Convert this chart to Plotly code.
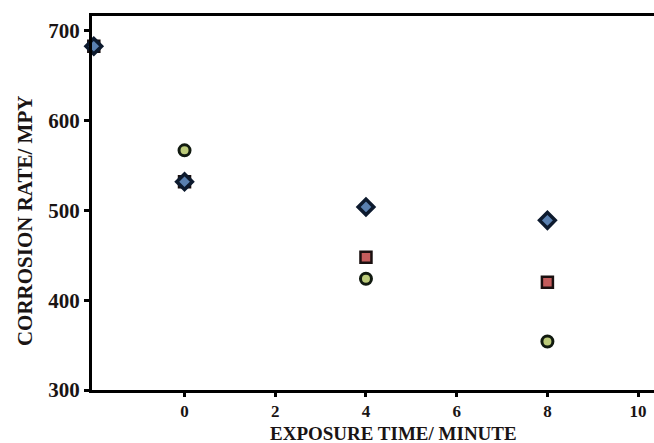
import plotly.graph_objects as go

# Data
time_diamond = [-2, 0, 4, 8]
rate_diamond = [683, 532, 504, 489]
time_square = [-2, 0, 4, 8]
rate_square = [683, 532, 448, 420]
time_circle = [-2, 0, 4, 8]
rate_circle = [683, 567, 424, 354]

x_ticks = [0, 2, 4, 6, 8, 10]
y_ticks = [300, 400, 500, 600, 700]

fig = go.Figure()
fig.add_trace(go.Scatter(x=time_circle, y=rate_circle, mode="markers", cliponaxis=False,
                         marker=dict(symbol="circle", size=11, color="#bccb7a",
                                     line=dict(color="#111a10", width=3))))
fig.add_trace(go.Scatter(x=time_square, y=rate_square, mode="markers", cliponaxis=False,
                         marker=dict(symbol="square", size=11, color="#c45c5c",
                                     line=dict(color="#1a1010", width=2.5))))
fig.add_trace(go.Scatter(x=time_diamond, y=rate_diamond, mode="markers", cliponaxis=False,
                         marker=dict(symbol="diamond", size=12, color="#5a80b0",
                                     line=dict(color="#0d1a2e", width=3.5))))

font_fam = "Liberation Serif"
fig.update_layout(
    width=654, height=443,
    margin=dict(l=92, r=0, t=16, b=53),
    paper_bgcolor="white", plot_bgcolor="white",
    showlegend=False,
    font=dict(family=font_fam, color="#1a1414"),
    xaxis=dict(range=[-2.04, 10.35], tickvals=x_ticks, ticks="outside", ticklen=4,
               tickwidth=2.5, tickcolor="black", showline=True, linewidth=3,
               linecolor="black", mirror=True, showgrid=False, zeroline=False,
               ticklabelstandoff=0,
               tickfont=dict(family=font_fam, size=17, weight="bold")),
    yaxis=dict(range=[300, 716.7], tickvals=y_ticks, ticks="outside", ticklen=5,
               tickwidth=2.5, tickcolor="black", showline=True, linewidth=3,
               linecolor="black", showgrid=False, zeroline=False,
               tickfont=dict(family=font_fam, size=21, weight="bold")),
    annotations=[
        dict(text="EXPOSURE TIME/ MINUTE", xref="paper", yref="paper",
             x=0.537, y=-0.115, xanchor="center", yanchor="middle", showarrow=False,
             font=dict(family=font_fam, size=19, weight="bold", color="#1a1414")),
        dict(text="CORROSION RATE/ MPY", xref="paper", yref="paper",
             x=-0.119, y=0.452, xanchor="center", yanchor="middle", showarrow=False,
             textangle=-90,
             font=dict(family=font_fam, size=21, weight="bold", color="#1a1414")),
    ],
)
fig.write_html("out.html", config={"displayModeBar": False},
               post_script="document.body.style.margin='0';")
